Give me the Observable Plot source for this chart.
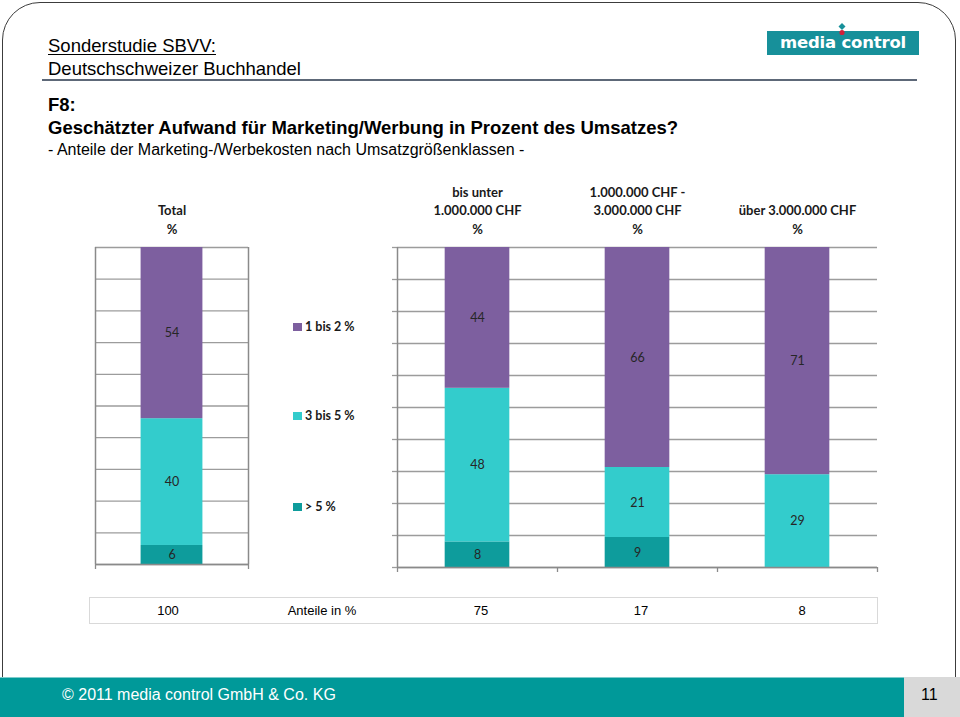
<!DOCTYPE html>
<html><head><meta charset="utf-8">
<script src="https://cdn.jsdelivr.net/npm/d3@7"></script>
<script src="https://cdn.jsdelivr.net/npm/@observablehq/plot@0.6"></script>
<style>
html,body{margin:0;padding:0;background:#fff;}
body{width:960px;height:717px;position:relative;overflow:hidden;font-family:"Liberation Sans",Arial,sans-serif;color:#000;}
.abs{position:absolute;white-space:nowrap;}
#slide{position:absolute;left:2px;top:2px;width:954px;height:690px;border:1.5px solid #3c3c3c;border-radius:38px 38px 0 0;box-sizing:border-box;}
.leg{position:absolute;font-family:Lato,"Open Sans",sans-serif;font-weight:bold;font-size:12.5px;color:#1a1a1a;display:flex;align-items:center;}
.leg span.sw{display:inline-block;width:9px;height:8px;margin-right:3px;}
#table{position:absolute;left:89px;top:597px;width:789px;height:27px;border:1px solid #d9d9d9;box-sizing:border-box;}
#table span{position:absolute;top:0;line-height:25px;font-size:13px;transform:translateX(-50%);}
#logo{position:absolute;left:767px;top:31px;width:152px;height:24px;background:#17909a;}
#logo span{position:absolute;left:0;top:0;width:152px;text-align:center;line-height:24px;color:#fff;font-family:"DejaVu Sans",sans-serif;font-weight:bold;font-size:16.5px;letter-spacing:-0.2px;}
</style></head><body>
<div id="slide"></div>
<div class="abs" style="left:48px;top:34px;font-size:18.5px;line-height:23px;"><span style="text-decoration:underline;text-underline-offset:2px;">Sonderstudie SBVV:</span><br>Deutschschweizer Buchhandel</div>
<div class="abs" style="left:42px;top:78.5px;width:875px;height:2px;background:#5d6878;"></div>
<div id="logo"><span>media control</span></div>
<svg class="abs" style="left:835px;top:23px;" width="14" height="14">
  <path d="M7 0 L10.5 3.5 L7 7 L3.5 3.5 Z" fill="#17909a"/>
  <circle cx="7" cy="9.5" r="2.6" fill="#d0203a"/>
</svg>
<div class="abs" style="left:48px;top:93px;font-size:18.5px;line-height:23px;font-weight:bold;">F8:<br>Geschätzter Aufwand für Marketing/Werbung in Prozent des Umsatzes?</div>
<div class="abs" style="left:48px;top:142px;font-size:16px;line-height:16px;">- Anteile der Marketing-/Werbekosten nach Umsatzgrößenklassen -</div>

<div id="left" class="abs" style="left:60px;top:170px;"></div>
<div id="right" class="abs" style="left:340px;top:170px;"></div>
<div id="legend"></div>
<div id="table"></div>

<div class="abs" style="left:0;top:677px;width:904px;height:40px;background:#009999;border-top:1px solid #7fcccc;box-sizing:border-box;"></div>
<div class="abs" style="left:904px;top:677px;width:56px;height:40px;background:#d9d9d9;"></div>
<div class="abs" style="left:62px;top:686px;font-size:16px;line-height:18px;color:#fff;">© 2011 media control GmbH &amp; Co. KG</div>
<div class="abs" style="left:921px;top:686px;font-size:16px;line-height:18px;color:#000;">11</div>

<script>
// ---- data ----
const groups = ["Total", "bis unter 1.000.000 CHF", "1.000.000 CHF - 3.000.000 CHF", "über 3.000.000 CHF"];
const headerLabels = ["Total\n%", "bis unter\n1.000.000 CHF\n%", "1.000.000 CHF -\n3.000.000 CHF\n%", "über 3.000.000 CHF\n%"];
const series = ["1 bis 2 %", "3 bis 5 %", "> 5 %"];
const seriesColors = ["#7d5f9f", "#33cccc", "#0e9c9c"];
const values12 = [54, 44, 66, 71];   // 1 bis 2 %
const values35 = [40, 48, 21, 29];   // 3 bis 5 %
const values5  = [6, 8, 9, null];    // > 5 %
const tableTexts = ["100", "Anteile in %", "75", "17", "8"];

// rows, stacked from bottom: > 5 %, 3 bis 5 %, 1 bis 2 %
const rows = [];
groups.forEach((g, i) => {
  [[series[2], values5[i]], [series[1], values35[i]], [series[0], values12[i]]].forEach(([s, v]) => {
    if (v != null) rows.push({group: g, gi: i, series: s, value: v});
  });
});

const gridColor = "#9c9c9c";
const axisColor = "#8a8a8a";
const labelFont = "Lato, 'Open Sans', sans-serif";
const barFrac = 0.404;

function panel(data, positionOf, nBands, opts) {
  const hw = barFrac / 2;
  const d = data.map(r => ({...r, pos: positionOf(r)}));
  const centers = d3.range(nBands).map(i => i + 0.5);
  const marks = [
    Plot.gridY({ticks: 10, stroke: gridColor, strokeOpacity: 1, strokeWidth: 1.3}),
    Plot.rectY(d, Plot.stackY({x1: r => r.pos - hw, x2: r => r.pos + hw, y: "value", fill: "series", offset: "normalize"})),
    Plot.text(d, Plot.stackY({x: "pos", y: "value", text: r => String(r.value), offset: "normalize",
      fill: "#262626", fontSize: 12.5, fontFamily: labelFont})),
    Plot.axisX({anchor: "top", ticks: centers, tickSize: 0, tickPadding: 14, label: null,
      tickFormat: t => opts.headers[Math.round(t - 0.5)], fontWeight: "bold", fontSize: 13,
      fontFamily: labelFont, lineHeight: 1.42, fill: "#1a1a1a"}),
    Plot.axisX({anchor: "bottom", ticks: d3.range(nBands + 1), tickSize: 5, tickFormat: () => "", label: null, stroke: axisColor, strokeWidth: 1.3}),
    Plot.ruleY([0], {stroke: axisColor, strokeWidth: 1.5})
  ];
  if (opts.sideLines) {
    marks.push(Plot.ruleX([0, nBands], {stroke: axisColor, strokeWidth: 1.5}));
  } else {
    marks.push(Plot.axisY({ticks: 10, tickSize: 5, tickFormat: () => "", label: null, stroke: gridColor, strokeWidth: 1.3}));
    marks.push(Plot.ruleX([0], {stroke: axisColor, strokeWidth: 1.5}));
  }
  return Plot.plot({
    width: opts.width, height: opts.height,
    marginLeft: opts.ml, marginRight: opts.mr, marginTop: opts.mt, marginBottom: opts.mb,
    x: {domain: [0, nBands], axis: null},
    y: {domain: [0, 1], axis: null},
    color: {domain: series, range: seriesColors},
    style: {background: "transparent", overflow: "visible"},
    marks
  });
}

document.getElementById("left").append(panel(rows.filter(r => r.gi === 0), r => 0.5, 1,
  {headers: headerLabels.slice(0, 1), sideLines: true, width: 200, height: 414, ml: 35, mr: 12, mt: 77, mb: 20}));
document.getElementById("right").append(panel(rows.filter(r => r.gi > 0), r => r.gi - 0.5, 3,
  {headers: headerLabels.slice(1), sideLines: false, width: 557, height: 417, ml: 57, mr: 20, mt: 77, mb: 20}));

// legend
const legend = document.getElementById("legend");
const legendTops = [319, 408, 499];
series.forEach((s, i) => {
  const el = document.createElement("div");
  el.className = "leg";
  el.style.left = "293px";
  el.style.top = legendTops[i] + "px";
  el.innerHTML = `<span class="sw" style="background:${seriesColors[i]}"></span>${s}`;
  legend.append(el);
});

// table row
const table = document.getElementById("table");
const tableCenters = [78, 232, 391, 551, 712];
tableTexts.forEach((t, i) => {
  const sp = document.createElement("span");
  sp.textContent = t;
  sp.style.left = tableCenters[i] + "px";
  table.append(sp);
});
</script>
</body></html>
